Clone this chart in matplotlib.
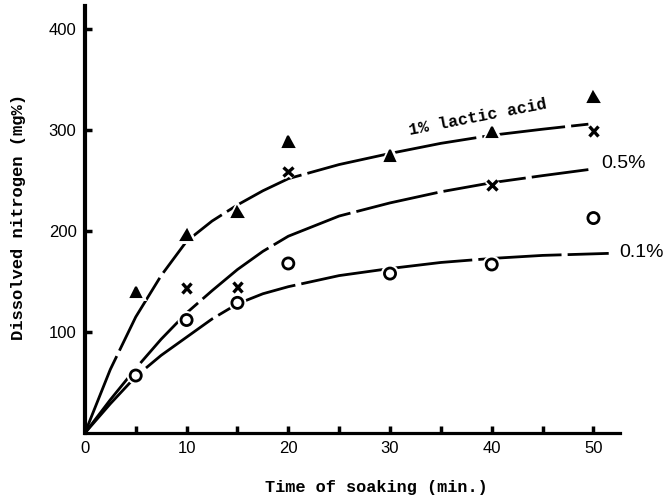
import matplotlib
matplotlib.use("Agg")
import matplotlib.pyplot as plt
import matplotlib.patheffects as pe

# measured points (Dissolved nitrogen, mg%)
x_1pct = [5, 10, 15, 20, 30, 40, 50]
y_1pct = [140, 196, 219, 289, 275, 298, 333]
x_05pct = [10, 15, 20, 40, 50]
y_05pct = [144, 145, 259, 246, 299]
x_01pct = [5, 10, 15, 20, 30, 40, 50]
y_01pct = [57, 112, 129, 168, 158, 167, 213]

# hand-drawn fitted curves
curve_x = [0, 2.5, 5, 7.5, 10, 12.5, 15, 17.5, 20, 25, 30, 35, 40, 45, 49.5]
curve_1pct = [0, 63, 115, 156, 190, 210, 226, 240, 252, 266, 277, 287, 295, 301, 306]
curve_05pct = [0, 33, 64, 93, 119, 141, 162, 180, 195, 215, 228, 239, 248, 255, 261]
curve_01x = [0, 2.5, 5, 7.5, 10, 12.5, 15, 17.5, 20, 25, 30, 35, 40, 45, 51.5]
curve_01pct = [0, 29, 56, 77, 95, 113, 128, 138, 145, 156, 163, 169, 173, 176, 178]

fig = plt.figure(figsize=(6.63, 5.03), dpi=100)
ax = fig.add_axes([0.128, 0.139, 0.807, 0.849])

dash = (0, (30, 2.2))
ax.plot(curve_x, curve_1pct, color="black", lw=2.0, linestyle=dash)
ax.plot(curve_x, curve_05pct, color="black", lw=2.0, linestyle=dash)
ax.plot(curve_01x, curve_01pct, color="black", lw=2.0, linestyle=dash)

halo = [pe.withStroke(linewidth=5, foreground="white")]
ax.plot(x_1pct, y_1pct, linestyle="none", marker="^", ms=7.5, mfc="black",
        mec="black", mew=1.5, path_effects=halo, zorder=5)
ax.plot(x_05pct, y_05pct, linestyle="none", marker="x", ms=7, color="black",
        mew=2.4, path_effects=halo, zorder=5)
ax.plot(x_01pct, y_01pct, linestyle="none", marker="o", ms=8, mfc="white",
        mec="black", mew=2.0, path_effects=halo, zorder=5)

ax.set_xlim(0, 52.6)
ax.set_ylim(0, 423)
ax.spines["top"].set_visible(False)
ax.spines["right"].set_visible(False)
ax.spines["left"].set_linewidth(3.0)
ax.spines["bottom"].set_linewidth(2.3)

ax.set_xticks([0, 5, 10, 15, 20, 25, 30, 35, 40, 45, 50])
ax.set_xticklabels(["0", "", "10", "", "20", "", "30", "", "40", "", "50"])
ax.set_yticks([100, 200, 300, 400])
ax.tick_params(axis="both", direction="in", length=5, width=2.5,
               labelsize=12, pad=6)
for lab in ax.get_xticklabels() + ax.get_yticklabels():
    lab.set_family("Liberation Sans")

ax.set_xlabel("Time of soaking (min.)", family="Liberation Mono",
              fontweight="bold", fontsize=12.2)
ax.xaxis.set_label_coords(0.544, -0.11)
ax.set_ylabel("Dissolved nitrogen (mg%)", family="Liberation Mono",
              fontweight="bold", fontsize=12.3)
ax.yaxis.set_label_coords(-0.11, 0.506)

ax.text(38.6, 313, "1% lactic acid", family="Liberation Mono",
        fontweight="bold", fontsize=12, rotation=11,
        ha="center", va="center")
ax.text(50.8, 267, "0.5%", family="Liberation Sans", fontsize=14,
        ha="left", va="center")
ax.text(52.5, 179, "0.1%", family="Liberation Sans", fontsize=14,
        ha="left", va="center", clip_on=False)

fig.savefig("out.png", dpi=100)
